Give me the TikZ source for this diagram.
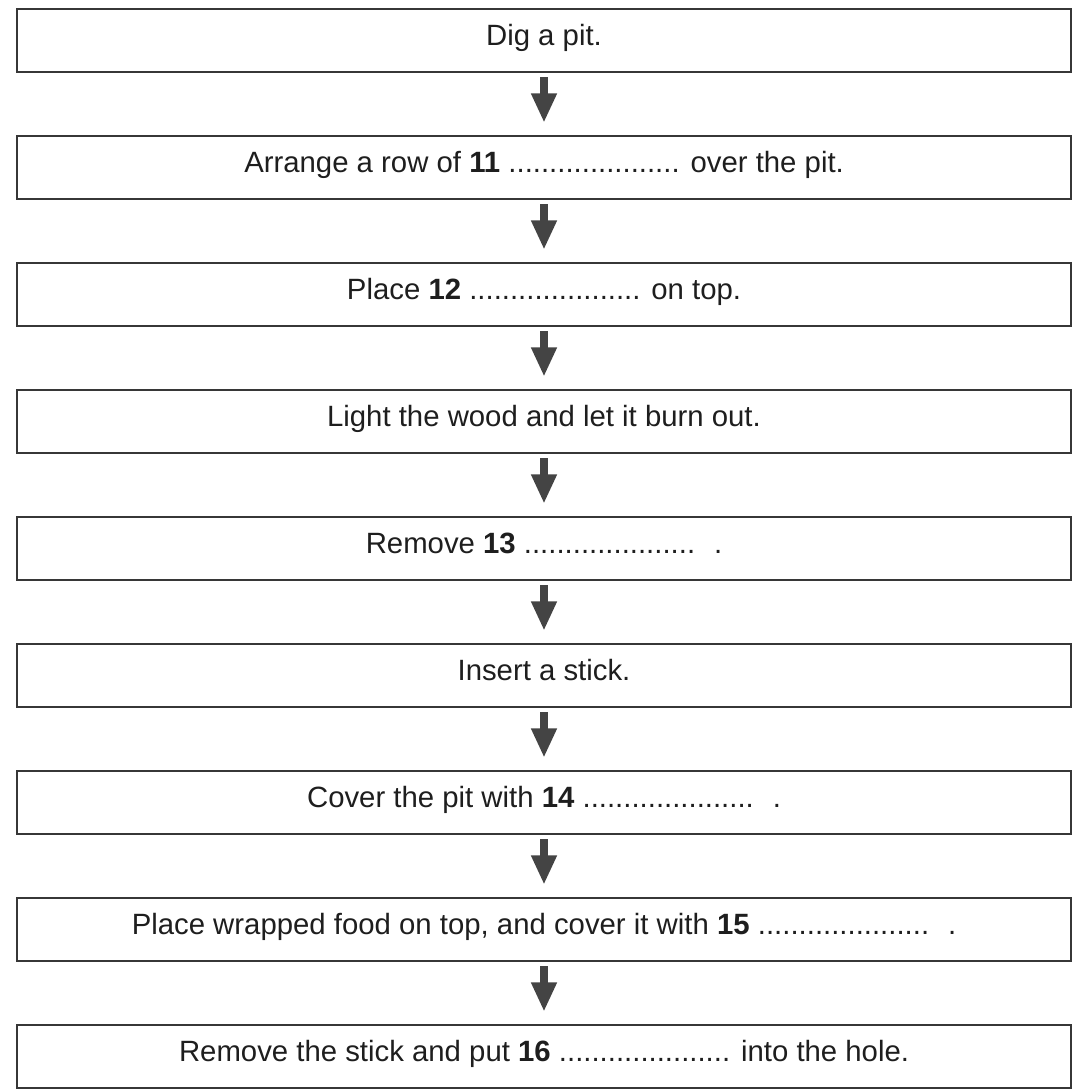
\documentclass[tikz,border=0pt]{standalone}
\usepackage{fontspec}
\setmainfont{Liberation Sans}
\usetikzlibrary{positioning,arrows.meta}

\definecolor{boxline}{RGB}{55,55,55}
\definecolor{arrowgray}{RGB}{68,68,68}
\definecolor{textgray}{RGB}{30,30,30}

\newcommand{\answerdots}{.....................}

\tikzset{
  stepbox/.style={draw=boxline, line width=1.4pt, minimum width=791pt, minimum height=47.25pt,
    inner sep=0pt, outer sep=0pt, text=textgray, font=\fontsize{22}{26}\selectfont, text height=16pt, text depth=8pt},
  flowarrow/.style={draw=arrowgray, line width=6pt, shorten <=4pt, shorten >=10pt,
    -{Triangle[width=18pt,length=22pt,fill=arrowgray]}}
}

\begin{document}
\begin{tikzpicture}[x=0.75pt,y=0.75pt,yscale=-1,xscale=1, node distance=48pt]
        %set diagram area
        \useasboundingbox (0,0) rectangle (1074,1090);

        % Step Boxes
        \node [stepbox] (dig) at (544,40.5) {Dig a pit.};
        \node [stepbox, below=of dig] (row) {Arrange a row of \textbf{11} \answerdots{} over the pit.};
        \node [stepbox, below=of row] (place) {Place \textbf{12} \answerdots{} on top.};
        \node [stepbox, below=of place] (light) {Light the wood and let it burn out.};
        \node [stepbox, below=of light] (remove) {Remove \textbf{13} \answerdots{} \ .};
        \node [stepbox, below=of remove] (stick) {Insert a stick.};
        \node [stepbox, below=of stick] (cover) {Cover the pit with \textbf{14} \answerdots{} \ .};
        \node [stepbox, below=of cover] (food) {Place wrapped food on top, and cover it with \textbf{15} \answerdots{} \ .};
        \node [stepbox, below=of food] (hole) {Remove the stick and put \textbf{16} \answerdots{} into the hole.};

        % Arrows
        \foreach \from/\to in {dig/row, row/place, place/light, light/remove, remove/stick, stick/cover, cover/food, food/hole}
          \draw [flowarrow] (\from.south) -- (\to.north);

\end{tikzpicture}
\end{document}
